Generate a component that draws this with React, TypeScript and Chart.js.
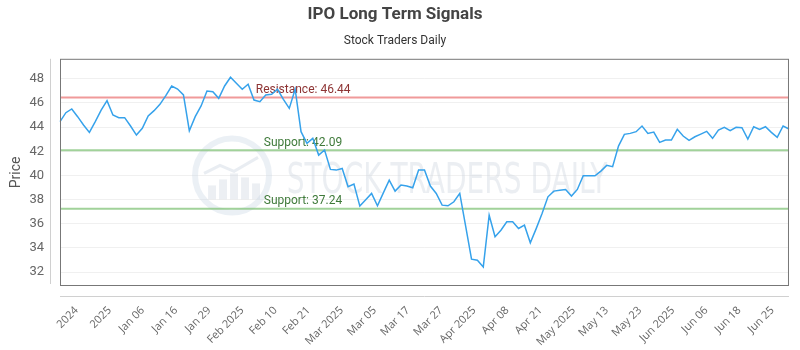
import { useEffect, useRef } from 'react';
import { Chart, registerables } from 'chart.js';

Chart.register(...registerables);

const TITLE = 'IPO Long Term Signals';
const SUBTITLE = 'Stock Traders Daily';
const Y_TITLE = 'Price';
const WATERMARK = 'STOCK TRADERS DAILY';

const prices: number[] = [
  44.45, 45.19, 45.5, 44.86, 44.17, 43.56, 44.45, 45.4, 46.19, 45.0,
  44.78, 44.78, 44.09, 43.34, 43.9, 44.92, 45.36, 45.88, 46.6, 47.4,
  47.15, 46.66, 43.7, 44.86, 45.75, 46.99, 46.93, 46.38, 47.4, 48.12,
  47.62, 47.13, 47.54, 46.24, 46.1, 46.66, 46.71, 47.13, 46.3, 45.55,
  47.13, 43.62, 42.65, 43.07, 41.68, 42.1, 40.5, 40.44, 40.58, 39.06,
  39.28, 37.46, 37.98, 38.51, 37.49, 38.56, 39.61, 38.7, 39.2, 39.12,
  38.98, 40.44, 40.44, 39.12, 38.51, 37.54, 37.49, 37.82, 38.51, 35.8,
  33.07, 32.98, 32.43, 36.71, 34.92, 35.47, 36.16, 36.16, 35.61, 35.88,
  34.42, 35.6, 36.85, 38.23, 38.7, 38.78, 38.84, 38.29, 38.84, 39.97,
  39.97, 39.97, 40.36, 40.83, 40.72, 42.43, 43.4, 43.48, 43.62, 44.09,
  43.48, 43.59, 42.73, 42.93, 42.93, 43.81, 43.26, 42.9, 43.2, 43.42,
  43.65, 43.07, 43.76, 43.98, 43.7, 43.98, 43.95, 43.01, 44.03, 43.81,
  44.03, 43.56, 43.15, 44.09, 43.84,
];

const tickLabels: string[] = [
  '2024', '2025', 'Jan 06', 'Jan 16', 'Jan 29', 'Feb 2025', 'Feb 10', 'Feb 21',
  'Mar 2025', 'Mar 05', 'Mar 17', 'Mar 27', 'Apr 2025', 'Apr 08', 'Apr 21',
  'May 2025', 'May 13', 'May 23', 'Jun 2025', 'Jun 06', 'Jun 18', 'Jun 25',
];

const yTicks: number[] = [32, 34, 36, 38, 40, 42, 44, 46, 48];
const Y_MIN = 30.85;
const Y_MAX = 49.65;

const resistanceLevels: number[] = [46.44];
const supportLevels: number[] = [42.09, 37.24];

const overlayPlugin = {
  id: 'overlay',
  beforeDatasetsDraw(chart: any) {
    const { ctx, chartArea: a, scales } = chart;
    const ys = scales.y;
    const w = a.right - a.left;
    ctx.save();

    // watermark logo
    const cx = a.left + w * 0.236;
    const cy = (a.top + a.bottom) / 2 + 3;
    ctx.strokeStyle = 'rgba(205,218,230,0.4)';
    ctx.lineWidth = 6;
    ctx.beginPath();
    ctx.arc(cx, cy, 37, 0, Math.PI * 2);
    ctx.stroke();
    ctx.fillStyle = 'rgba(200,210,222,0.35)';
    const bars = [[-24, 14], [-13, 20], [-2, 26], [9, 22], [20, 16]];
    bars.forEach(([dx, h]) => {
      ctx.fillRect(cx + dx, cy + 24 - h, 8, h);
    });
    ctx.strokeStyle = 'rgba(200,210,222,0.4)';
    ctx.lineWidth = 3;
    ctx.beginPath();
    ctx.moveTo(cx - 28, cy - 2);
    ctx.lineTo(cx - 12, cy - 10);
    ctx.lineTo(cx + 2, cy - 4);
    ctx.lineTo(cx + 26, cy - 18);
    ctx.stroke();

    ctx.font = '42px "DejaVu Sans Condensed", "Liberation Sans Narrow", sans-serif';
    ctx.fillStyle = 'rgba(205,213,222,0.4)';
    ctx.textAlign = 'left';
    ctx.textBaseline = 'alphabetic';
    const tx = a.left + w * 0.311;
    const targetW = w * 0.44;
    const mw = ctx.measureText(WATERMARK).width;
    ctx.save();
    ctx.translate(tx, cy + 18);
    ctx.scale(targetW / mw, 1);
    ctx.fillText(WATERMARK, 0, 0);
    ctx.restore();

    // levels
    const drawLevel = (v: number, line: string, txtColor: string, label: string, fx: number) => {
      const py = ys.getPixelForValue(v);
      ctx.strokeStyle = line;
      ctx.lineWidth = 2;
      ctx.beginPath();
      ctx.moveTo(a.left, py);
      ctx.lineTo(a.right, py);
      ctx.stroke();
      ctx.fillStyle = txtColor;
      ctx.font = '12px Roboto, sans-serif';
      ctx.textAlign = 'left';
      ctx.textBaseline = 'alphabetic';
      ctx.fillText(label, a.left + w * fx, py - 4.5);
    };
    resistanceLevels.forEach((v) =>
      drawLevel(v, 'rgba(235,120,120,0.75)', '#8e3434', `Resistance: ${v.toFixed(2)}`, 0.2685)
    );
    supportLevels.forEach((v) =>
      drawLevel(v, 'rgba(130,195,120,0.75)', '#3f7a3a', `Support: ${v.toFixed(2)}`, 0.2795)
    );
    ctx.restore();
  },
  afterDraw(chart: any) {
    const { ctx, chartArea: a } = chart;
    ctx.save();
    ctx.strokeStyle = '#d0d0d0';
    ctx.lineWidth = 1;
    ctx.beginPath();
    ctx.moveTo(a.left - 9.5, a.top);
    ctx.lineTo(a.left - 9.5, a.bottom - 2);
    ctx.moveTo(a.left, a.bottom + 10.5);
    ctx.lineTo(a.right, a.bottom + 10.5);
    ctx.stroke();
    ctx.strokeStyle = '#777';
    ctx.strokeRect(a.left + 0.5, a.top + 0.5, a.right - a.left - 1, a.bottom - a.top - 1);
    ctx.restore();
  },
};

export default function App() {
  const canvasRef = useRef<HTMLCanvasElement | null>(null);

  useEffect(() => {
    document.body.style.margin = '0';
    const canvas = canvasRef.current;
    if (!canvas) return;
    const chart = new Chart(canvas, {
      type: 'line',
      data: {
        labels: prices.map((_, i) => String(i)),
        datasets: [
          {
            data: prices,
            borderColor: 'rgb(54,162,235)',
            borderWidth: 1.5,
            pointRadius: 0,
            tension: 0,
            fill: false,
          },
        ],
      },
      options: {
        animation: false,
        responsive: true,
        maintainAspectRatio: false,
        layout: { padding: { top: 0, right: 10, left: 0, bottom: 0 } },
        plugins: {
          legend: { display: false },
          tooltip: { enabled: false },
          title: {
            display: true,
            text: TITLE,
            color: '#444',
            font: { size: 17, weight: 'bold', family: 'Roboto, sans-serif' },
            padding: { top: 5, bottom: 8 },
          },
          subtitle: {
            display: true,
            text: SUBTITLE,
            color: '#333',
            font: { size: 12, family: 'Roboto, sans-serif' },
            padding: { top: 0, bottom: 11 },
          },
        },
        scales: {
          x: { type: 'category', display: false },
          x2: {
            type: 'category',
            labels: tickLabels,
            position: 'bottom',
            offset: true,
            grid: { display: false, drawTicks: false },
            border: { display: false },
            ticks: {
              autoSkip: false,
              maxRotation: 45,
              minRotation: 45,
              padding: 18,
              color: '#666',
              font: { size: 11, family: '"Open Sans", sans-serif' },
            },
            afterFit: (s: any) => {
              s.height = 64;
            },
          },
          y: {
            type: 'linear',
            min: Y_MIN,
            max: Y_MAX,
            afterBuildTicks: (s: any) => {
              s.ticks = yTicks.map((v) => ({ value: v }));
            },
            grid: { color: 'rgba(0,0,0,0.06)', drawTicks: false },
            border: { display: false },
            ticks: {
              padding: 16,
              color: '#666',
              font: { size: 13, family: 'Roboto, sans-serif' },
            },
            title: {
              display: true,
              text: Y_TITLE,
              color: '#555',
              font: { size: 14, family: 'Roboto, sans-serif' },
              padding: { top: 8, bottom: 0 },
            },
            afterFit: (s: any) => {
              s.width = 60;
            },
          },
        },
      },
      plugins: [overlayPlugin],
    });
    return () => chart.destroy();
  }, []);

  return (
    <div style={{ width: 800, height: 350, position: 'relative' }}>
      <canvas ref={canvasRef} />
    </div>
  );
}
